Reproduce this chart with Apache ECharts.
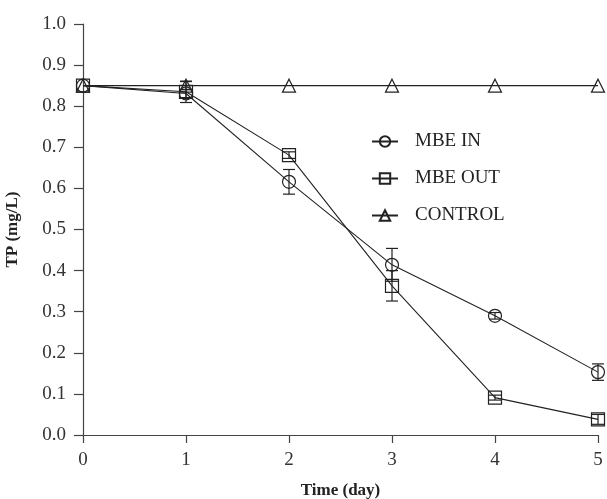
<!DOCTYPE html>
<html>
<head>
<meta charset="utf-8">
<script src="https://cdn.jsdelivr.net/npm/echarts@6/dist/echarts.min.js"></script>
<style>html,body{margin:0;padding:0;background:#fff}#c{width:607px;height:499px}</style>
</head>
<body>
<div id="c"></div>
<script>
const days = [0, 1, 2, 3, 4, 5];
const mbeIn = [0.85, 0.831, 0.616, 0.414, 0.29, 0.153];
const mbeInErr = [0, 0.01, 0.03, 0.04, 0.008, 0.02];
const mbeOut = [0.85, 0.835, 0.681, 0.363, 0.091, 0.038];
const mbeOutErr = [0, 0.026, 0.008, 0.037, 0.006, 0.012];
const control = [0.85, 0.85, 0.85, 0.85, 0.85, 0.85];
const controlErr = [0, 0.01, 0, 0, 0, 0];
const yTicks = [0, 0.1, 0.2, 0.3, 0.4, 0.5, 0.6, 0.7, 0.8, 0.9, 1.0];

const ink = '#222';
const font = 'Liberation Serif, Times New Roman, serif';

function pairs(vals) { return days.map((d, i) => [d, vals[i]]); }
function errData(vals, errs) { return days.map((d, i) => [d, vals[i] - errs[i], vals[i] + errs[i]]).filter((r, i) => errs[i] > 0); }

function errSeries(vals, errs) {
  return {
    type: 'custom',
    data: errData(vals, errs),
    encode: { x: 0, y: [1, 2] },
    silent: true,
    z: 1,
    renderItem: function (params, api) {
      const lo = api.coord([api.value(0), api.value(1)]);
      const hi = api.coord([api.value(0), api.value(2)]);
      const w = 6;
      const st = { stroke: ink, lineWidth: 1.2 };
      return {
        type: 'group',
        children: [
          { type: 'line', shape: { x1: lo[0], y1: lo[1], x2: hi[0], y2: hi[1] }, style: st },
          { type: 'line', shape: { x1: lo[0] - w, y1: lo[1], x2: lo[0] + w, y2: lo[1] }, style: st },
          { type: 'line', shape: { x1: hi[0] - w, y1: hi[1], x2: hi[0] + w, y2: hi[1] }, style: st }
        ]
      };
    }
  };
}

function lineSeries(name, vals, symbol, size) {
  return {
    name: name,
    type: 'line',
    data: pairs(vals),
    symbol: symbol,
    symbolSize: size,
    showAllSymbol: true,
    z: 2,
    lineStyle: { color: ink, width: 1.1 },
    itemStyle: { color: 'rgba(255,255,255,0)', borderColor: ink, borderWidth: 1.2 },
    emphasis: { disabled: true }
  };
}

const chart = echarts.init(document.getElementById('c'), null, { renderer: 'canvas' });
chart.setOption({
  animation: false,
  backgroundColor: '#fff',
  grid: { left: 83, right: 9, top: 24, bottom: 64, containLabel: false, outerBoundsMode: 'none' },
  legend: {
    orient: 'vertical',
    left: 366,
    top: 127,
    itemGap: 18,
    itemWidth: 26,
    itemHeight: 13,
    data: ['MBE IN', 'MBE OUT', 'CONTROL'],
    textStyle: { fontFamily: font, fontSize: 19, color: ink, padding: [0, 0, 0, 12] }
  },
  xAxis: {
    type: 'value',
    min: 0, max: 5, interval: 1,
    name: 'Time (day)',
    nameLocation: 'middle',
    nameGap: 47,
    nameTextStyle: { fontFamily: font, fontSize: 17, fontWeight: 'bold', color: ink },
    axisLine: { lineStyle: { color: '#444', width: 1.2 } },
    axisTick: { show: true, inside: false, length: 8, lineStyle: { color: '#444', width: 1.2 } },
    axisLabel: { fontFamily: font, fontSize: 19, color: '#333', margin: 16 },
    splitLine: { show: false }
  },
  yAxis: {
    type: 'value',
    min: 0, max: 1, interval: 0.1,
    name: 'TP (mg/L)',
    nameLocation: 'middle',
    nameGap: 62,
    nameTextStyle: { fontFamily: font, fontSize: 17, fontWeight: 'bold', color: ink },
    axisLine: { show: true, lineStyle: { color: '#444', width: 1.2 } },
    axisTick: { show: true, inside: false, length: 9, lineStyle: { color: '#444', width: 1.2 } },
    axisLabel: { fontFamily: font, fontSize: 19, color: '#333', margin: 17,
      formatter: v => yTicks.some(t => Math.abs(t - v) < 1e-9) ? v.toFixed(1) : '' },
    splitLine: { show: false }
  },
  series: [
    errSeries(mbeIn, mbeInErr),
    errSeries(mbeOut, mbeOutErr),
    errSeries(control, controlErr),
    lineSeries('CONTROL', control, 'triangle', 13),
    lineSeries('MBE OUT', mbeOut, 'rect', 13),
    lineSeries('MBE IN', mbeIn, 'circle', 13)
  ]
});
</script>
</body>
</html>
